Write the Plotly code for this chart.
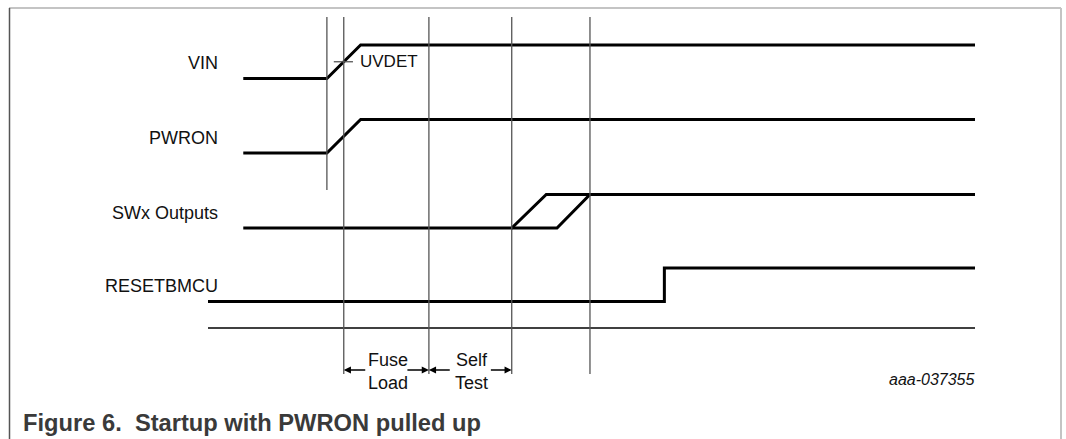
import plotly.graph_objects as go

# ---------------- data (time in arbitrary units, level 0 = low, 1 = high) ----------------
signal_names = ["VIN", "PWRON", "SWx Outputs", "RESETBMCU"]

vin_t = [4.6, 15.5, 19.9, 100]
vin_lvl = [0, 0, 1, 1]

pwron_t = [4.6, 15.5, 19.9, 100]
pwron_lvl = [0, 0, 1, 1]

swx_fast_t = [4.6, 39.6, 44.1, 100]
swx_fast_lvl = [0, 0, 1, 1]
swx_slow_t = [39.6, 45.5, 49.8]
swx_slow_lvl = [0, 0, 1]

reset_t = [0, 59.5, 59.5, 100]
reset_lvl = [0, 0, 1, 1]

marker_times = [15.5, 17.7, 28.8, 39.6, 49.8]
marker_long = [False, True, True, True, True]

uvdet_t = [16.4, 18.9]
fuse_load = [17.7, 28.8]
self_test = [28.8, 39.6]
phase_labels = ["Fuse<br>Load", "Self<br>Test"]
axis_t = [0, 100]

figure_id = "aaa-037355"
caption = "Figure 6.  Startup with PWRON pulled up"

# ---------------- layout constants ----------------
W, H = 1066, 439
PX_PER_T = 7.67
X0_PX = 208
lane_low = [78.5, 153, 228, 301.5]
AMP = 33.5
AXIS_Y = 328
MARK_TOP = 17
MARK_BOT_SHORT = 190
MARK_BOT_LONG = 374
ARROW_Y = 370
FONT = "Liberation Sans, Arial, sans-serif"


def ys(lane, lvls):
    return [lane_low[lane] - AMP * v for v in lvls]


fig = go.Figure()

wave_style = dict(mode="lines", line=dict(color="black", width=3), hoverinfo="skip", showlegend=False)
fig.add_trace(go.Scatter(x=vin_t, y=ys(0, vin_lvl), **wave_style))
fig.add_trace(go.Scatter(x=pwron_t, y=ys(1, pwron_lvl), **wave_style))
fig.add_trace(go.Scatter(x=swx_fast_t, y=ys(2, swx_fast_lvl), **wave_style))
fig.add_trace(go.Scatter(x=swx_slow_t, y=ys(2, swx_slow_lvl), **wave_style))
fig.add_trace(go.Scatter(x=reset_t, y=ys(3, reset_lvl), **wave_style))

# time axis line
fig.add_trace(go.Scatter(x=axis_t, y=[AXIS_Y, AXIS_Y], mode="lines",
                         line=dict(color="black", width=1.5), hoverinfo="skip", showlegend=False))

# vertical marker lines
mx, my = [], []
for t, long_ in zip(marker_times, marker_long):
    mx += [t, t, None]
    my += [MARK_TOP, MARK_BOT_LONG if long_ else MARK_BOT_SHORT, None]
fig.add_trace(go.Scatter(x=mx, y=my, mode="lines", line=dict(color="#555555", width=1.3),
                         hoverinfo="skip", showlegend=False))

# UVDET tick
uv_y = lane_low[0] - AMP / 2
fig.add_trace(go.Scatter(x=uvdet_t, y=[uv_y, uv_y], mode="lines", line=dict(color="#555555", width=1.3),
                         hoverinfo="skip", showlegend=False))

annotations = []
for i, name in enumerate(signal_names):
    annotations.append(dict(x=1.55, y=lane_low[i] - AMP / 2 + 1.5, xref="x", yref="y", text=name,
                            showarrow=False, xanchor="right", yanchor="middle",
                            font=dict(family=FONT, size=18, color="#111111")))

annotations.append(dict(x=19.6, y=uv_y, xref="x", yref="y", text="UVDET", showarrow=False,
                        xanchor="left", yanchor="middle", font=dict(family=FONT, size=17, color="#111111")))

# phase arrows
for (a, b), lab in zip([fuse_load, self_test], phase_labels):
    mid = (a + b) / 2
    span = b - a
    inner = 0.27 * span
    annotations.append(dict(x=a, y=ARROW_Y, ax=a + inner, ay=ARROW_Y, xref="x", yref="y", axref="x", ayref="y",
                            text="", showarrow=True, arrowhead=2, arrowsize=1.1, arrowwidth=1.3, arrowcolor="black"))
    annotations.append(dict(x=b, y=ARROW_Y, ax=b - inner, ay=ARROW_Y, xref="x", yref="y", axref="x", ayref="y",
                            text="", showarrow=True, arrowhead=2, arrowsize=1.1, arrowwidth=1.3, arrowcolor="black"))
    annotations.append(dict(x=mid + 0.2, y=ARROW_Y + 1, xref="x", yref="y", text=lab, showarrow=False,
                            xanchor="center", yanchor="middle",
                            font=dict(family=FONT, size=18, color="#111111")))

annotations.append(dict(x=100.2, y=379, xref="x", yref="y", text="<i>" + figure_id + "</i>", showarrow=False,
                        xanchor="right", yanchor="middle", font=dict(family=FONT, size=16, color="#111111")))

annotations.append(dict(x=21 / W, y=423, xref="paper", yref="y",
                        text="<b>" + caption.replace("  ", "&nbsp; ") + "</b>",
                        showarrow=False, xanchor="left", yanchor="middle",
                        font=dict(family=FONT, size=23.7, color="#3a3a3a")))

shapes = [
    dict(type="line", xref="paper", yref="y", x0=9 / W, x1=1061 / W, y0=8, y1=8,
         line=dict(color="#c4c4c4", width=2)),
    dict(type="line", xref="paper", yref="y", x0=1061 / W, x1=1061 / W, y0=8, y1=439,
         line=dict(color="#c4c4c4", width=2)),
    dict(type="line", xref="paper", yref="y", x0=9.5 / W, x1=9.5 / W, y0=8, y1=439,
         line=dict(color="#555555", width=1.5)),
]

fig.update_layout(
    width=W, height=H,
    margin=dict(l=0, r=0, t=0, b=0),
    paper_bgcolor="white", plot_bgcolor="white",
    xaxis=dict(range=[-X0_PX / PX_PER_T, (W - X0_PX) / PX_PER_T], visible=False, fixedrange=True),
    yaxis=dict(range=[H, 0], visible=False, fixedrange=True),
    annotations=annotations,
    shapes=shapes,
    showlegend=False,
)

fig.write_html("out.html", config={"displayModeBar": False},
               post_script="document.body.style.margin='0px';document.body.style.overflow='hidden';")
